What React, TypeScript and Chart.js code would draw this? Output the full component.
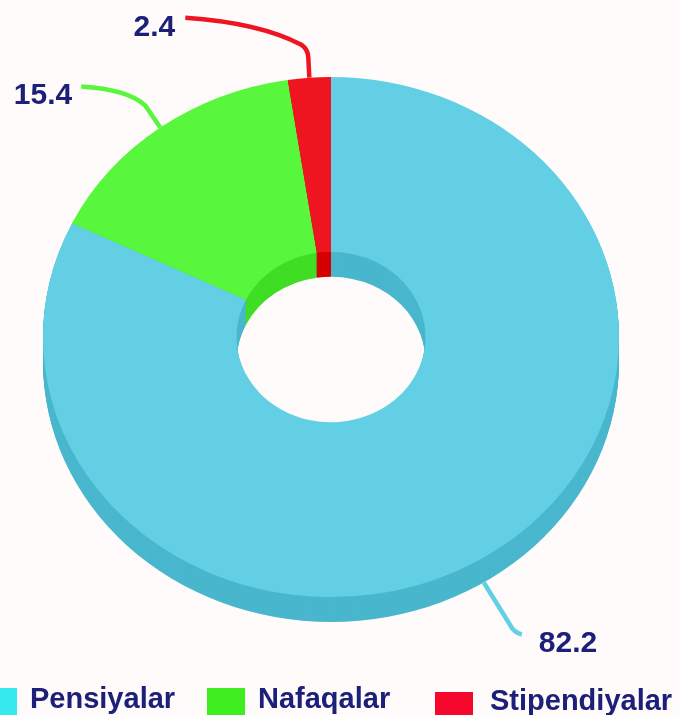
import React, { useEffect, useRef } from "react";
import { Chart, registerables } from "chart.js";

Chart.register(...registerables);

// ---- data ----
const categories = ["Pensiyalar", "Nafaqalar", "Stipendiyalar"];
const values = [82.2, 15.4, 2.4];
const valueLabels = ["82.2", "15.4", "2.4"];
const topColors = ["#62cfe5", "#58f63c", "#ee1520"];
const sideColors = ["#49b7cd", "#3fde25", "#d60000"];
const legendColors = ["#35e9ef", "#3eee1f", "#f6082c"];

// ---- style constants ----
const K = 0.903; // vertical squash of ellipse
const DEPTH = 25; // 3D thickness
const BG = "#fffbfb";
const NAVY = "#1d2079";
const FONT = "'Liberation Sans', Arial, Helvetica, sans-serif";

// leader line shapes relative to anchor (screen coords) and label offsets relative to line end
type Leader = {
  path: (ctx: CanvasRenderingContext2D, ax: number, ay: number) => [number, number];
  label: { dx: number; dy: number; align: CanvasTextAlign };
};
const leaders: Leader[] = [
  {
    path: (ctx, ax, ay) => {
      ctx.moveTo(ax, ay);
      ctx.lineTo(ax + 26, ay + 42);
      ctx.quadraticCurveTo(ax + 30, ay + 50, ax + 38, ay + 52);
      return [ax + 38, ay + 52];
    },
    label: { dx: 17, dy: 18, align: "left" },
  },
  {
    path: (ctx, ax, ay) => {
      ctx.moveTo(ax, ay);
      ctx.lineTo(ax - 15, ay - 22);
      ctx.quadraticCurveTo(ax - 32, ay - 38, ax - 79, ay - 41);
      return [ax - 79, ay - 41];
    },
    label: { dx: -9, dy: 17, align: "right" },
  },
  {
    path: (ctx, ax, ay) => {
      ctx.moveTo(ax, ay);
      ctx.lineTo(ax - 1, ay - 20);
      ctx.quadraticCurveTo(ax - 1, ay - 28, ax - 8, ay - 33);
      ctx.quadraticCurveTo(ax - 50, ay - 55, ax - 124, ay - 60);
      return [ax - 124, ay - 60];
    },
    label: { dx: -10, dy: 18, align: "right" },
  },
];

// legend layout (x of box, box top, text x, text baseline)
const legendLayout = [
  { bx: -21, by: 688, tx: 30, ty: 708 },
  { bx: 207, by: 688, tx: 258, ty: 708 },
  { bx: 435, by: 692, tx: 490, ty: 710 },
];

const pseudo3d = {
  id: "pseudo3d",
  beforeDatasetsDraw(chart: any) {
    const ctx: CanvasRenderingContext2D = chart.ctx;
    const arcs = chart.getDatasetMeta(0).data as any[];
    chart.$p3dSaved = false;
    if (!arcs.length) return;
    const cx = arcs[0].x;
    const cy = arcs[0].y;
    for (let d = DEPTH; d >= 1; d--) {
      ctx.save();
      ctx.translate(cx, cy + d);
      ctx.scale(1, K);
      ctx.translate(-cx, -cy);
      arcs.forEach((a: any, i: number) => {
        ctx.beginPath();
        ctx.arc(cx, cy, a.outerRadius, a.startAngle, a.endAngle);
        ctx.arc(cx, cy, a.innerRadius, a.endAngle, a.startAngle, true);
        ctx.closePath();
        ctx.fillStyle = sideColors[i];
        ctx.fill();
      });
      ctx.restore();
    }
    ctx.save();
    ctx.translate(cx, cy);
    ctx.scale(1, K);
    ctx.translate(-cx, -cy);
    chart.$p3dSaved = true;
  },
  afterDatasetsDraw(chart: any) {
    if (chart.$p3dSaved) chart.ctx.restore();
    chart.$p3dSaved = false;
  },
  afterDraw(chart: any) {
    const ctx: CanvasRenderingContext2D = chart.ctx;
    const arcs = chart.getDatasetMeta(0).data as any[];
    if (!arcs.length) return;
    const cx = arcs[0].x;
    const cy = arcs[0].y;
    ctx.save();
    arcs.forEach((a: any, i: number) => {
      const mid = (a.startAngle + a.endAngle) / 2;
      const R = a.outerRadius;
      const ax = cx + R * Math.cos(mid);
      const ay = cy + K * R * Math.sin(mid) + (Math.sin(mid) > 0 ? DEPTH : 0);
      const L = leaders[i];
      ctx.beginPath();
      const [ex, ey] = L.path(ctx, ax, ay);
      ctx.strokeStyle = topColors[i];
      ctx.lineWidth = 4.5;
      ctx.lineJoin = "round";
      ctx.lineCap = "butt";
      ctx.stroke();
      ctx.fillStyle = NAVY;
      ctx.font = `bold 30px ${FONT}`;
      ctx.textAlign = L.label.align;
      ctx.textBaseline = "alphabetic";
      ctx.fillText(valueLabels[i], ex + L.label.dx, ey + L.label.dy);
    });
    // legend
    categories.forEach((c, i) => {
      const p = legendLayout[i];
      ctx.fillStyle = legendColors[i];
      ctx.fillRect(p.bx, p.by, 38, 28);
      ctx.fillStyle = NAVY;
      ctx.font = `bold 29px ${FONT}`;
      ctx.textAlign = "left";
      ctx.textBaseline = "alphabetic";
      ctx.fillText(c, p.tx, p.ty);
    });
    ctx.restore();
  },
};

export default function App() {
  const ref = useRef<HTMLCanvasElement | null>(null);
  useEffect(() => {
    document.body.style.background = BG;
    const canvas = ref.current;
    if (!canvas) return;
    const chart = new Chart(canvas, {
      type: "doughnut",
      data: {
        labels: categories,
        datasets: [
          {
            data: values,
            backgroundColor: topColors,
            borderWidth: 0,
            hoverOffset: 0,
            offset: 0,
          } as any,
        ],
      },
      options: {
        responsive: false,
        animation: false,
        events: [],
        radius: 288,
        cutout: `${(94.5 / 288) * 100}%`,
        layout: { padding: { left: 0, right: 18, top: 0, bottom: 41 } },
        plugins: {
          legend: { display: false },
          tooltip: { enabled: false },
          title: { display: false },
        },
      } as any,
      plugins: [pseudo3d],
    });
    return () => chart.destroy();
  }, []);
  return (
    <div
      style={{
        position: "fixed",
        left: 0,
        top: 0,
        width: 680,
        height: 715,
        background: BG,
        overflow: "hidden",
      }}
    >
      <canvas ref={ref} width={680} height={715} style={{ display: "block" }} />
    </div>
  );
}
